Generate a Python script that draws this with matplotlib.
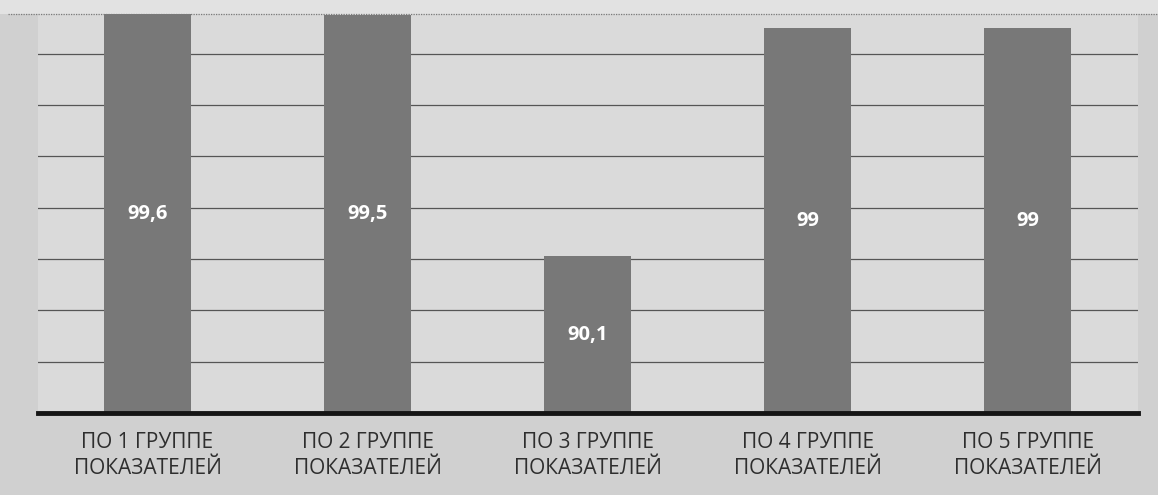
import matplotlib
matplotlib.use("Agg")
import matplotlib.pyplot as plt

plt.rcParams['font.family'] = ['Open Sans', 'DejaVu Sans']

categories = ["ПО 1 ГРУППЕ\nПОКАЗАТЕЛЕЙ", "ПО 2 ГРУППЕ\nПОКАЗАТЕЛЕЙ", "ПО 3 ГРУППЕ\nПОКАЗАТЕЛЕЙ",
              "ПО 4 ГРУППЕ\nПОКАЗАТЕЛЕЙ", "ПО 5 ГРУППЕ\nПОКАЗАТЕЛЕЙ"]
values = [99.6, 99.5, 90.1, 99, 99]
value_labels = ["99,6", "99,5", "90,1", "99", "99"]
y_min, y_max = 84, 99.55
grid_ticks = [86, 88, 90, 92, 94, 96, 98]

W, H = 1158, 495
fig = plt.figure(figsize=(W / 100, H / 100), dpi=100, facecolor='#d0d0d0')
# light strip above the plot area
fig.patches.append(plt.Rectangle((0, (H - 14) / H), 1, 14 / H, transform=fig.transFigure,
                                 facecolor='#e2e2e2', edgecolor='none', zorder=0))
fig.lines.append(plt.Line2D([0.007, 1], [(H - 14) / H] * 2, transform=fig.transFigure,
                            color='#7a7a7a', lw=0.9, ls=(0, (1, 1))))

ax = fig.add_axes([37.5 / W, (H - 413) / H, (1138 - 37.5) / W, (413 - 14) / H])
ax.set_facecolor('#dadada')
x = list(range(len(categories)))
ax.bar(x, [v - y_min for v in values], bottom=y_min, width=0.395, color='#787878', zorder=3)
for xi, v, lab in zip(x, values, value_labels):
    top = min(v, y_max)
    ax.text(xi, (y_min + top) / 2, lab, ha='center', va='center', color='white',
            fontsize=14.5, fontweight='bold', zorder=4)

ax.set_xlim(-0.5, len(categories) - 0.5)
ax.set_ylim(y_min, y_max)
ax.set_yticks(grid_ticks)
ax.yaxis.grid(True, color='#555555', lw=0.9, zorder=1)
ax.tick_params(axis='y', left=False, labelleft=False)
ax.set_xticks(x)
ax.set_xticklabels(categories, fontsize=15, color='#2e2e2e', linespacing=1.3)
ax.tick_params(axis='x', length=0, pad=14)
ax.axhline(y_min, color='#151515', lw=3.5, zorder=5, clip_on=False)
for s in ax.spines.values():
    s.set_visible(False)

fig.savefig("out.png", dpi=100, facecolor=fig.get_facecolor())
